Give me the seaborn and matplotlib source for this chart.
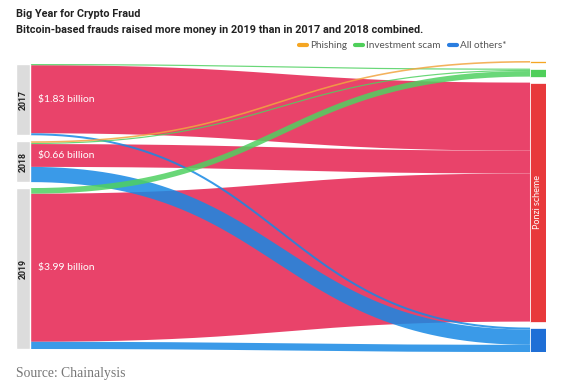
import numpy as np
import matplotlib.pyplot as plt
import seaborn as sns
from matplotlib.lines import Line2D

# Years (source nodes) and fraud types (target nodes)
years = ["2017", "2018", "2019"]
year_totals = ["$1.83 billion", "$0.66 billion", "$3.99 billion"]
categories = ["Phishing", "Investment scam", "Ponzi scheme", "All others"]
legend_labels = ["Phishing", "Investment scam", "All others*"]

phishing = [0.00, 0.04, 0.00]
investment = [0.03, 0.03, 0.14]
ponzi = [1.70, 0.57, 3.70]
others = [0.05, 0.38, 0.18]

link_colors = ["#f2a540", "#4fd160", "#e9436a", "#1789e4"]
node_colors = ["#f5a623", "#4fcf5a", "#e8393b", "#1f6fd6"]
year_color = "#dcdcdc"

sns.set_theme(style="white")
plt.rcParams["font.family"] = ["Lato", "DejaVu Sans"]
bold_font = ["Roboto", "DejaVu Sans"]

fig = plt.figure(figsize=(5.63, 3.87), dpi=100)
ax = fig.add_axes([16 / 563, 1 - 352 / 387, 530 / 563, 291 / 387])

flows = np.array([phishing, investment, ponzi, others]).T  # rows = years
gap = 0.15
left_w, right_w, width = 14, 16, 530

left_tot = flows.sum(axis=1)
right_tot = flows.sum(axis=0)
height = right_tot.sum() + gap * (len(categories) - 1)
left_span = left_tot.sum() + gap * (len(years) - 1)
left_top = (height - left_span) / 2 + np.concatenate([[0], np.cumsum(left_tot + gap)[:-1]])
right_top = np.concatenate([[0], np.cumsum(right_tot + gap)[:-1]])

ax.set_xlim(0, width)
ax.set_ylim(height, 0)
ax.axis("off")

# pixels per $1bn so link strokes get the right thickness
p = ax.transData.transform([[0, 0], [0, 1]])
px_per_unit = abs(p[1, 1] - p[0, 1])

# work out link positions, d3-sankey style
links = []
src_off = left_top.copy()
tgt_off = right_top.copy()
for i in range(len(years)):
    for j in range(len(categories)):
        v = flows[i, j]
        if v <= 0:
            continue
        y0 = src_off[i] + v / 2
        y1 = tgt_off[j] + v / 2
        src_off[i] += v
        tgt_off[j] += v
        links.append((j, v, y0, y1))

x0, x1 = left_w, width - right_w
xm = (x0 + x1) / 2
s = np.linspace(0, 1, 200)
order = {2: 1, 3: 2, 1: 3, 0: 4}
for j, v, y0, y1 in links:
    bx = (1 - s) ** 3 * x0 + 3 * (1 - s) ** 2 * s * xm + 3 * (1 - s) * s ** 2 * xm + s ** 3 * x1
    by = (1 - s) ** 3 * y0 + 3 * (1 - s) ** 2 * s * y0 + 3 * (1 - s) * s ** 2 * y1 + s ** 3 * y1
    ax.plot(bx, by, color=link_colors[j], lw=v * px_per_unit * 72 / fig.dpi,
            solid_capstyle="butt", alpha=0.85 if j != 2 else 1, zorder=order[j])

# nodes
ax.bar(left_w / 2, left_tot, bottom=left_top, width=left_w, color=year_color, zorder=5)
ax.bar(width - right_w / 2, right_tot, bottom=right_top, width=right_w,
       color=node_colors, edgecolor="white", linewidth=0.5, zorder=5)

for i, yr in enumerate(years):
    ax.text(left_w / 2, left_top[i] + left_tot[i] / 2, yr, rotation=90, ha="center",
            va="center", fontsize=6.3, fontweight="bold", color="#222222", zorder=6,
            family=bold_font)
    # amount label sits in the middle of the red band
    start = left_top[i] + flows[i, :2].sum()
    ax.text(22, start + flows[i, 2] / 2, year_totals[i], ha="left", va="center",
            fontsize=7.5, color="white", zorder=6)

ax.text(width - right_w / 2, right_top[2] + right_tot[2] / 2, "Ponzi scheme", rotation=90,
        ha="center", va="center", fontsize=6.5, color="white", zorder=6)

fig.text(16 / 563, 1 - 14 / 387, "Big Year for Crypto Fraud", fontsize=7.8,
         fontweight="bold", color="#222222", va="center", family=bold_font)
fig.text(16 / 563, 1 - 30 / 387,
         "Bitcoin-based frauds raised more money in 2019 than in 2017 and 2018 combined.",
         fontsize=7.8, fontweight="bold", color="#222222", va="center", family=bold_font)

handles = [Line2D([], [], color=c, lw=3) for c in [node_colors[0], node_colors[1], "#2a7de0"]]
fig.legend(handles, legend_labels, loc="center right", bbox_to_anchor=(506 / 563, 1 - 46 / 387),
           ncol=3, frameon=False, fontsize=7.2, handlelength=0.8, handletextpad=0.3,
           columnspacing=0.8, labelcolor="#555555", borderpad=0, borderaxespad=0)

fig.text(16 / 563, 1 - 373 / 387, "Source: Chainalysis", fontsize=9.8, color="#777777",
         va="center", family=["Liberation Serif"])

fig.savefig("out.png", dpi=100, facecolor="white")
